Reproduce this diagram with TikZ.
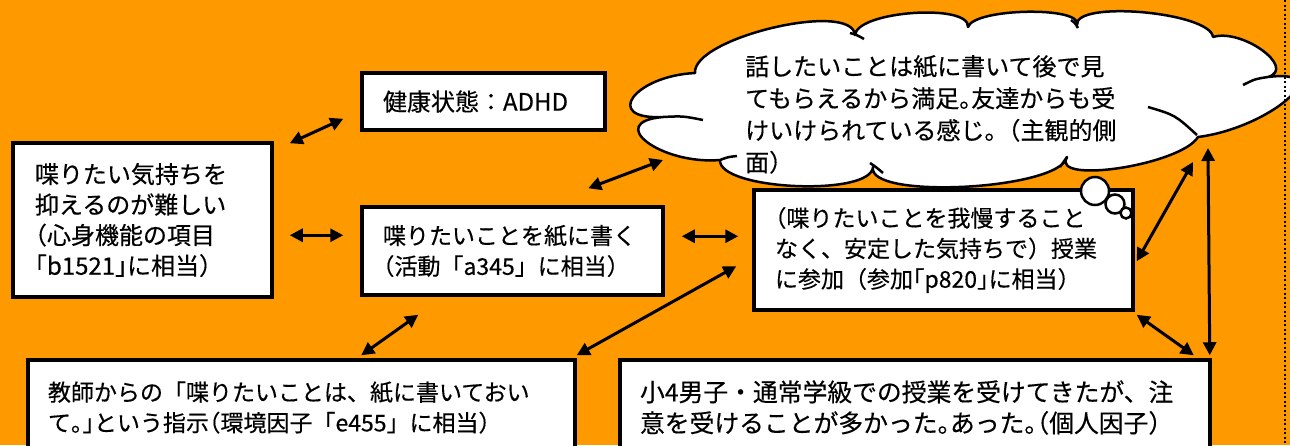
\documentclass[tikz,border=0pt]{standalone}
\usepackage{fontspec}
\setmainfont{Noto Sans CJK JP}[FakeBold=0.4]
\newfontfamily\hwf{Noto Sans CJK JP}[FakeBold=0.4,RawFeature=+halt]
\newcommand\hw[1]{{\hwf #1}}
\usetikzlibrary{arrows.meta,calc}
\definecolor{bgorange}{RGB}{255,153,0}
\begin{document}
\begin{tikzpicture}[x=1pt,y=-1pt,
  box/.style={draw=black,line width=3.5pt,fill=white,align=left,inner ysep=0pt},
  fa/.style={font=\fontsize{24}{30.5}\selectfont},
  fb/.style={font=\fontsize{23}{30.5}\selectfont},
  fc/.style={font=\fontsize{24.8}{31}\selectfont},
  arr/.style={line width=3pt,{Triangle[length=13pt,width=13pt]}-{Triangle[length=13pt,width=13pt]}},
  cloudline/.style={line width=2.5pt,line join=round},
  bubble/.style={draw=black,fill=white,line width=2.5pt},
]
\useasboundingbox (0,0) rectangle (1290,445);
\fill[bgorange] (0,0) rectangle (1290,445);

% boxes
\node[box,fa,minimum width=259pt,minimum height=154pt,text width=215pt,inner xsep=22pt] (left) at (142.5,220)
  {喋りたい気持ちを\\抑えるのが難しい\\\hw{（}心身機能の項目\\\hw{「}b1521\hw{」}に相当\hw{）}};
\node[box,fa,minimum width=243pt,minimum height=57pt,text width=201pt,inner xsep=21pt] (health) at (483.5,101.5)
  {健康状態：ADHD};
\node[box,fb,minimum width=301pt,minimum height=88pt,text width=259pt,inner xsep=21pt] (write) at (512.5,251)
  {喋りたいことを紙に書く\\\hw{（}活動「a345」に相当）};
\node[box,fb,minimum width=379pt,minimum height=120pt,text width=337pt,inner xsep=21pt] (part) at (943.5,250)
  {\hw{（}喋りたいことを我慢すること\\なく、安定した気持ちで）授業\\に参加（参加\hw{「}p820\hw{」}に相当）};
\node[box,fb,minimum width=547pt,minimum height=95pt,text width=507pt,inner xsep=20pt] (teach) at (301.5,407.5)
  {教師からの「喋りたいことは、紙に書いておい\\て\hw{。」}という指示\hw{（}環境因子「e455」に相当）};
\node[box,fc,minimum width=590pt,minimum height=95pt,text width=550pt,inner xsep=20pt] (pers) at (915,407.5)
  {小4男子・通常学級での授業を受けてきたが、注\\意を受けることが多かった\hw{。}あった\hw{。（}個人因子\hw{）}};

% cloud
\filldraw[fill=white,draw=black,cloudline]
 (663,117) .. controls (602,120) and (634,76) .. (695,73)
 .. controls (692,38) and (852,0) .. (855,35)
 .. controls (857,11) and (970,3) .. (968,27)
 .. controls (974,8) and (1083,6) .. (1077,25)
 .. controls (1074,0) and (1210,12) .. (1213,37)
 .. controls (1242,28) and (1297,68) .. (1268,77)
 .. controls (1339,68) and (1269,128) .. (1198,137)
 .. controls (1181,165) and (1050,185) .. (1067,157)
 .. controls (1060,190) and (866,200) .. (873,167)
 .. controls (871,197) and (718,190) .. (720,160)
 .. controls (661,165) and (604,122) .. (663,117) -- cycle;
\draw[cloudline] (663,117) .. controls (683,116) .. (703,120);
\draw[cloudline] (720,160) .. controls (728,157) .. (737,156);
\draw[cloudline] (850,33) .. controls (857,35) .. (864,39);
\draw[cloudline] (1071,20) .. controls (1075,23) .. (1078,28);
\draw[cloudline] (1268,77) .. controls (1255,79) .. (1243,85);
\draw[cloudline] (1148,107) .. controls (1175,115) .. (1197,135);
\draw[cloudline] (1067,157) .. controls (1064,162) .. (1060,167);
\draw[cloudline] (870,163) .. controls (876,167) .. (883,173);
\node[bubble,circle,minimum size=28pt,inner sep=0pt] (b1) at (1095,191) {};
\node[bubble,circle,minimum size=19pt,inner sep=0pt] (b2) at (1115,204) {};
\node[bubble,circle,minimum size=11pt,inner sep=0pt] (b3) at (1126,213) {};
\node[anchor=north west,align=left,inner sep=0pt,font=\fontsize{24}{32}\selectfont] (cloudtxt) at (745,55)
  {話したいことは紙に書いて後で見\\てもらえるから満足\hw{。}友達からも受\\けいけられている感じ\hw{。}（主観的側\\面）};

\coordinate (cA) at (663,160);
\coordinate (cB) at (1193,162);
\coordinate (cC) at (1208,148);

% connectors
\draw[arr] ($(left.north east)+(16,2)$) -- ($(health.south west)+(-17,-13)$);
\draw[arr] ($(left.north east)+(16,94)$) -- ($(write.north west)+(-17,30)$);
\draw[arr] ($(write.north west)+(228,-17)$) -- (cA);
\draw[arr] ($(write.north east)+(17,31)$) -- ($(part.north west)+(-14,48)$);
\draw[arr] ($(write.south west)+(58,18)$) -- ($(teach.north west)+(335,-3)$);
\draw[arr] ($(teach.north east)+(0,-3)$) -- ($(part.north west)+(-16,78)$);
\draw[arr] ($(part.north east)+(2,73)$) -- (cB);
\draw[arr] (cC) -- ($(pers.north east)+(-2,-3)$);
\draw[arr] ($(part.south east)+(2,3)$) -- ($(pers.north east)+(-18,-3)$);

% dotted margin line
\draw[line width=2pt,dash pattern=on 2pt off 2.5pt] (1285,0) -- (1285,445);
\end{tikzpicture}
\end{document}
